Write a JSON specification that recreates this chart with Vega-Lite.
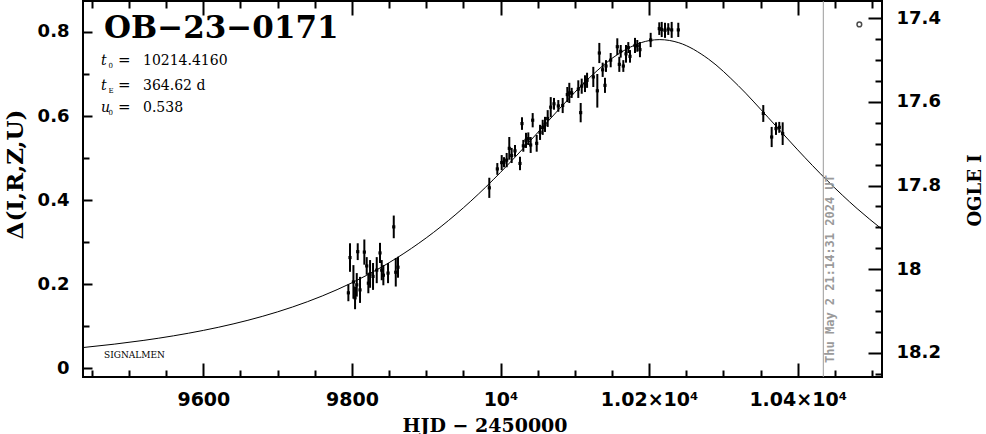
{
  "$schema": "https://vega.github.io/schema/vega-lite/v6.json",
  "width": 799,
  "height": 376,
  "autosize": "none",
  "padding": {"left": 83, "top": 1, "right": 104, "bottom": 57},
  "background": "white",
  "config": {
    "view": {"stroke": "black", "strokeWidth": 2},
    "axis": {"domain": false, "grid": false, "tickColor": "black", "tickWidth": 2, "labelColor": "black", "titleColor": "black"}
  },
  "datasets": {
    "pts": [
      {"t": 9795.2, "d": 0.179, "e": 0.02},
      {"t": 9797.4, "d": 0.263, "e": 0.034},
      {"t": 9802.0, "d": 0.205, "e": 0.04},
      {"t": 9804.2, "d": 0.167, "e": 0.027},
      {"t": 9806.5, "d": 0.198, "e": 0.028},
      {"t": 9807.8, "d": 0.277, "e": 0.02},
      {"t": 9810.9, "d": 0.186, "e": 0.031},
      {"t": 9816.7, "d": 0.276, "e": 0.03},
      {"t": 9819.9, "d": 0.243, "e": 0.021},
      {"t": 9822.1, "d": 0.202, "e": 0.024},
      {"t": 9824.4, "d": 0.224, "e": 0.033},
      {"t": 9828.4, "d": 0.218, "e": 0.032},
      {"t": 9833.4, "d": 0.233, "e": 0.031},
      {"t": 9837.8, "d": 0.274, "e": 0.024},
      {"t": 9840.1, "d": 0.233, "e": 0.024},
      {"t": 9842.3, "d": 0.221, "e": 0.024},
      {"t": 9848.6, "d": 0.226, "e": 0.024},
      {"t": 9856.3, "d": 0.336, "e": 0.027},
      {"t": 9859.0, "d": 0.228, "e": 0.034},
      {"t": 9862.0, "d": 0.24, "e": 0.025},
      {"t": 9984.9, "d": 0.429, "e": 0.024},
      {"t": 9995.7, "d": 0.474, "e": 0.014},
      {"t": 10001.6, "d": 0.489, "e": 0.018},
      {"t": 10004.7, "d": 0.49, "e": 0.012},
      {"t": 10008.3, "d": 0.495, "e": 0.017},
      {"t": 10011.8, "d": 0.523, "e": 0.027},
      {"t": 10015.0, "d": 0.506, "e": 0.018},
      {"t": 10019.5, "d": 0.517, "e": 0.014},
      {"t": 10026.2, "d": 0.487, "e": 0.016},
      {"t": 10028.9, "d": 0.582, "e": 0.015},
      {"t": 10030.7, "d": 0.529, "e": 0.014},
      {"t": 10034.3, "d": 0.542, "e": 0.018},
      {"t": 10037.4, "d": 0.546, "e": 0.015},
      {"t": 10040.6, "d": 0.531, "e": 0.019},
      {"t": 10043.3, "d": 0.59, "e": 0.017},
      {"t": 10048.7, "d": 0.535, "e": 0.02},
      {"t": 10053.2, "d": 0.561, "e": 0.018},
      {"t": 10056.8, "d": 0.573, "e": 0.018},
      {"t": 10059.9, "d": 0.58, "e": 0.018},
      {"t": 10063.5, "d": 0.594, "e": 0.02},
      {"t": 10067.6, "d": 0.621, "e": 0.024},
      {"t": 10072.0, "d": 0.629, "e": 0.014},
      {"t": 10077.8, "d": 0.624, "e": 0.014},
      {"t": 10083.7, "d": 0.625, "e": 0.018},
      {"t": 10089.9, "d": 0.651, "e": 0.018},
      {"t": 10092.6, "d": 0.655, "e": 0.024},
      {"t": 10095.8, "d": 0.655, "e": 0.012},
      {"t": 10104.7, "d": 0.664, "e": 0.021},
      {"t": 10107.9, "d": 0.608, "e": 0.023},
      {"t": 10109.3, "d": 0.671, "e": 0.018},
      {"t": 10113.7, "d": 0.677, "e": 0.02},
      {"t": 10116.5, "d": 0.685, "e": 0.018},
      {"t": 10124.9, "d": 0.693, "e": 0.024},
      {"t": 10130.3, "d": 0.66, "e": 0.04},
      {"t": 10133.0, "d": 0.75, "e": 0.024},
      {"t": 10137.5, "d": 0.71, "e": 0.017},
      {"t": 10140.6, "d": 0.673, "e": 0.018},
      {"t": 10142.0, "d": 0.719, "e": 0.014},
      {"t": 10148.3, "d": 0.733, "e": 0.017},
      {"t": 10157.2, "d": 0.765, "e": 0.02},
      {"t": 10159.9, "d": 0.723, "e": 0.018},
      {"t": 10161.8, "d": 0.754, "e": 0.015},
      {"t": 10165.3, "d": 0.719, "e": 0.014},
      {"t": 10168.9, "d": 0.748, "e": 0.021},
      {"t": 10172.0, "d": 0.763, "e": 0.013},
      {"t": 10174.3, "d": 0.742, "e": 0.015},
      {"t": 10181.0, "d": 0.768, "e": 0.018},
      {"t": 10184.1, "d": 0.767, "e": 0.014},
      {"t": 10187.7, "d": 0.758, "e": 0.018},
      {"t": 10202.1, "d": 0.781, "e": 0.017},
      {"t": 10213.7, "d": 0.808, "e": 0.015},
      {"t": 10217.0, "d": 0.806, "e": 0.018},
      {"t": 10221.4, "d": 0.804, "e": 0.018},
      {"t": 10225.8, "d": 0.807, "e": 0.014},
      {"t": 10230.4, "d": 0.805, "e": 0.019},
      {"t": 10239.3, "d": 0.805, "e": 0.017},
      {"t": 10353.7, "d": 0.606, "e": 0.02},
      {"t": 10365.0, "d": 0.55, "e": 0.024},
      {"t": 10370.8, "d": 0.57, "e": 0.015},
      {"t": 10375.2, "d": 0.573, "e": 0.013},
      {"t": 10379.8, "d": 0.558, "e": 0.027}
    ],
    "model": [
      {"t": 9438, "d": 0.04876}, {"t": 9480, "d": 0.05678}, {"t": 9520, "d": 0.06587},
      {"t": 9560, "d": 0.07667}, {"t": 9600, "d": 0.08954}, {"t": 9640, "d": 0.1049},
      {"t": 9680, "d": 0.12326}, {"t": 9720, "d": 0.14523}, {"t": 9760, "d": 0.17151},
      {"t": 9800, "d": 0.20292}, {"t": 9840, "d": 0.24036}, {"t": 9880, "d": 0.28472},
      {"t": 9920, "d": 0.33685}, {"t": 9960, "d": 0.39726}, {"t": 10000, "d": 0.46578},
      {"t": 10040, "d": 0.54085}, {"t": 10080, "d": 0.61857}, {"t": 10120, "d": 0.69167},
      {"t": 10160, "d": 0.74932}, {"t": 10200, "d": 0.77949}, {"t": 10214.4, "d": 0.78187},
      {"t": 10240, "d": 0.77443}, {"t": 10280, "d": 0.7355}, {"t": 10320, "d": 0.67229},
      {"t": 10360, "d": 0.59696}, {"t": 10400, "d": 0.5194}, {"t": 10440, "d": 0.44589},
      {"t": 10480, "d": 0.37955}, {"t": 10514, "d": 0.32965}
    ],
    "params": [
      {"sym": "t", "sub": "0", "val": "10214.4160", "t": 9462.2, "d": 0.7214},
      {"sym": "t", "sub": "E", "val": "364.62 d", "t": 9462.2, "d": 0.6619},
      {"sym": "u", "sub": "0", "val": "0.538", "t": 9462.2, "d": 0.6095}
    ],
    "labels": [
      {"name": "OB−23−0171", "t": 9466.3, "d": 0.7857}
    ],
    "sig": [{"name": "SIGNALMEN", "t": 9466.3, "d": 0.0238}],
    "now": [{"t": 10434.5, "d": 0.012, "stamp": "Thu May  2 21:14:31 2024 UT"}],
    "dot": [{"t": 10483, "d": 0.818}],
    "mag": [{"t": 9600, "mag": 17.4}, {"t": 10400, "mag": 18.2}]
  },
  "layer": [
    {
      "layer": [
        {
          "data": {"name": "model"},
          "mark": {"type": "line", "color": "black", "strokeWidth": 1, "interpolate": "monotone", "clip": true},
          "encoding": {
            "x": {"field": "t", "type": "quantitative",
              "scale": {"domain": [9438, 10513.5], "nice": false, "zero": false},
              "axis": {"orient": "bottom", "title": "HJD  −  2450000",
                "values": [9600, 9800, 10000, 10200, 10400],
                "tickSize": -14,
                "labelExpr": "datum.value === 9600 ? '9600' : datum.value === 9800 ? '9800' : datum.value === 10000 ? '10⁴' : datum.value === 10200 ? '1.02×10⁴' : '1.04×10⁴'",
                "labelFont": "DejaVu Sans", "labelFontWeight": "bold", "labelFontSize": 19, "labelPadding": 27,
                "labelFlush": false, "labelOverlap": false,
                "titleFont": "DejaVu Serif", "titleFontWeight": "bold", "titleFontSize": 19,
                "titleX": 401.5, "titleY": 48, "titleAlign": "center", "titleBaseline": "middle"}},
            "y": {"field": "d", "type": "quantitative",
              "scale": {"domain": [-0.0214, 0.8738], "nice": false, "zero": false},
              "axis": {"orient": "left", "title": "Δ(I,R,Z,U)",
                "values": [0,0.05,0.1,0.15,0.2,0.25,0.3,0.35,0.4,0.45,0.5,0.55,0.6,0.65,0.7,0.75,0.8,0.85],
                "tickSize": {"condition": {"test": "abs(datum.value*5-round(datum.value*5)) < 0.001", "value": -9}, "value": -6},
                "labelExpr": "abs(datum.value*5-round(datum.value*5)) < 0.001 ? format(datum.value, '.1~f') : ''",
                "labelFont": "DejaVu Sans", "labelFontWeight": "bold", "labelFontSize": 18, "labelPadding": 23,
                "labelFlush": false, "labelOverlap": false,
                "titleFont": "DejaVu Serif", "titleFontWeight": "bold", "titleFontSize": 23,
                "titleAngle": 270, "titleX": -68, "titleY": 173, "titleAlign": "center", "titleBaseline": "middle"}}
          }
        },
        {
          "data": {"name": "pts"},
          "mark": {"type": "errorbar", "ticks": false, "rule": {"color": "black", "strokeWidth": 2}},
          "encoding": {
            "x": {"field": "t", "type": "quantitative"},
            "y": {"field": "d", "type": "quantitative", "title": "Δ(I,R,Z,U)"},
            "yError": {"field": "e"}
          }
        },
        {
          "data": {"name": "pts"},
          "mark": {"type": "square", "color": "black", "filled": true, "size": 10, "opacity": 1},
          "encoding": {
            "x": {"field": "t", "type": "quantitative"},
            "y": {"field": "d", "type": "quantitative"}
          }
        },
        {
          "data": {"name": "now"},
          "mark": {"type": "rule", "color": "#9a9a9a", "strokeWidth": 1},
          "encoding": {"x": {"field": "t", "type": "quantitative"}}
        },
        {
          "data": {"name": "now"},
          "mark": {"type": "text", "color": "#9a9a9a", "font": "DejaVu Sans Mono", "fontWeight": "bold", "fontSize": 12, "angle": 270, "align": "left", "baseline": "top", "dy": 2},
          "encoding": {
            "x": {"field": "t", "type": "quantitative"},
            "y": {"field": "d", "type": "quantitative"},
            "text": {"field": "stamp"}
          }
        },
        {
          "data": {"name": "labels"},
          "mark": {"type": "text", "color": "black", "font": "DejaVu Serif", "fontWeight": "bold", "fontSize": 31, "align": "left", "baseline": "alphabetic"},
          "encoding": {
            "x": {"field": "t", "type": "quantitative"},
            "y": {"field": "d", "type": "quantitative"},
            "text": {"field": "name"}
          }
        },
        {
          "data": {"name": "params"},
          "mark": {"type": "text", "color": "black", "font": "DejaVu Serif", "fontStyle": "italic", "fontSize": 14, "align": "left", "baseline": "alphabetic"},
          "encoding": {
            "x": {"field": "t", "type": "quantitative"},
            "y": {"field": "d", "type": "quantitative"},
            "text": {"field": "sym"}
          }
        },
        {
          "data": {"name": "params"},
          "mark": {"type": "text", "color": "black", "font": "DejaVu Serif", "fontSize": 7, "align": "left", "baseline": "alphabetic", "dx": 7.5, "dy": 3},
          "encoding": {
            "x": {"field": "t", "type": "quantitative"},
            "y": {"field": "d", "type": "quantitative"},
            "text": {"field": "sub"}
          }
        },
        {
          "data": {"name": "params"},
          "mark": {"type": "text", "color": "black", "font": "DejaVu Serif", "fontSize": 15, "align": "left", "baseline": "alphabetic", "dx": 17},
          "encoding": {
            "x": {"field": "t", "type": "quantitative"},
            "y": {"field": "d", "type": "quantitative"},
            "text": {"value": "="}
          }
        },
        {
          "data": {"name": "params"},
          "mark": {"type": "text", "color": "black", "font": "DejaVu Serif", "fontSize": 14, "align": "left", "baseline": "alphabetic", "dx": 42},
          "encoding": {
            "x": {"field": "t", "type": "quantitative"},
            "y": {"field": "d", "type": "quantitative"},
            "text": {"field": "val"}
          }
        },
        {
          "data": {"name": "sig"},
          "mark": {"type": "text", "color": "black", "font": "DejaVu Serif", "fontSize": 9, "align": "left", "baseline": "alphabetic"},
          "encoding": {
            "x": {"field": "t", "type": "quantitative"},
            "y": {"field": "d", "type": "quantitative"},
            "text": {"field": "name"}
          }
        },
        {
          "data": {"name": "dot"},
          "mark": {"type": "point", "shape": "circle", "filled": false, "stroke": "black", "strokeWidth": 1.5, "size": 22},
          "encoding": {
            "x": {"field": "t", "type": "quantitative"},
            "y": {"field": "d", "type": "quantitative"}
          }
        }
      ]
    },
    {
      "data": {"name": "mag"},
      "mark": {"type": "point", "opacity": 0},
      "encoding": {
        "x": {"field": "t", "type": "quantitative",
          "scale": {"domain": [9438, 10513.5], "nice": false, "zero": false},
          "axis": {"orient": "top", "title": null, "labels": false,
            "values": [9450,9500,9550,9600,9650,9700,9750,9800,9850,9900,9950,10000,10050,10100,10150,10200,10250,10300,10350,10400,10450,10500],
            "tickSize": {"condition": {"test": "datum.value % 200 === 0", "value": -14}, "value": -7}}},
        "y": {"field": "mag", "type": "quantitative",
          "scale": {"domain": [18.2581, 17.3586], "nice": false, "zero": false},
          "axis": {"orient": "right", "title": "OGLE I",
            "values": [17.4,17.45,17.5,17.55,17.6,17.65,17.7,17.75,17.8,17.85,17.9,17.95,18,18.05,18.1,18.15,18.2,18.25],
            "tickSize": {"condition": {"test": "abs(datum.value*5-round(datum.value*5)) < 0.001", "value": -14}, "value": -7},
            "labelExpr": "abs(datum.value*5-round(datum.value*5)) < 0.001 ? format(datum.value, '.1~f') : ''",
            "labelFont": "DejaVu Sans", "labelFontWeight": "bold", "labelFontSize": 18, "labelPadding": 28,
            "labelFlush": false, "labelOverlap": false,
            "titleFont": "DejaVu Serif", "titleFontWeight": "bold", "titleFontSize": 18,
            "titleAngle": 270, "titleX": 93, "titleY": 189, "titleAlign": "center", "titleBaseline": "middle"}}
      }
    },
    {
      "data": {"name": "mag"},
      "mark": {"type": "point", "opacity": 0},
      "encoding": {
        "x": {"field": "t", "type": "quantitative",
          "scale": {"domain": [9438, 10513.5], "nice": false, "zero": false},
          "axis": {"orient": "bottom", "title": null, "labels": false,
            "values": [9450,9500,9550,9650,9700,9750,9850,9900,9950,10050,10100,10150,10250,10300,10350,10450,10500],
            "tickSize": -7}}
      }
    }
  ],
  "resolve": {"scale": {"x": "independent", "y": "independent"}, "axis": {"x": "independent", "y": "independent"}}
}
